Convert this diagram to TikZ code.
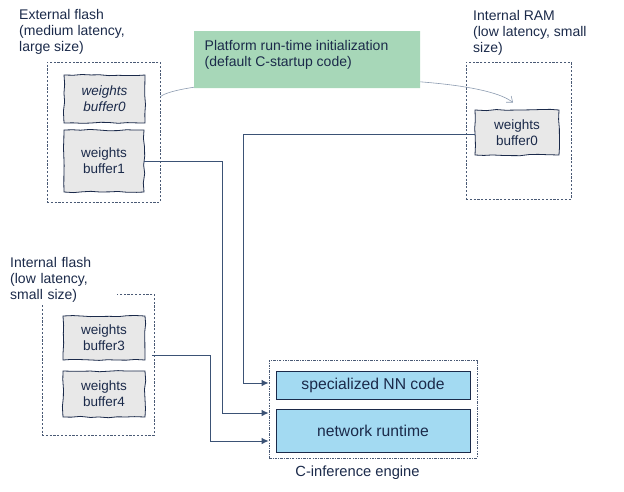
\documentclass[tikz,border=0pt]{standalone}
\usepackage{fontspec}
\setmainfont{Liberation Sans}
\usetikzlibrary{arrows.meta,calc,shapes.misc,decorations.pathmorphing}
\definecolor{navy}{HTML}{1B2A4A}
\definecolor{connc}{HTML}{3B5275}
\definecolor{dashc}{HTML}{4A5A75}
\definecolor{bufgray}{HTML}{E8E8E8}
\definecolor{greenc}{HTML}{A7D7B8}
\definecolor{bluec}{HTML}{A3DAF2}
\definecolor{curvec}{HTML}{8C9BB0}
\tikzset{
  txt/.style={font=\fontsize{14}{16}\selectfont, text=navy, align=left, inner sep=0pt},
  container/.style={draw=dashc, line width=0.7pt, dash pattern=on 2.2pt off 1.6pt, inner sep=0pt},
  buf/.style={draw=navy, fill=bufgray, line width=0.8pt, decorate,
    decoration={random steps, segment length=9pt, amplitude=0.7pt},
    font=\fontsize{13.5}{16}\selectfont, text=navy, align=center, inner sep=0pt},
  blk/.style={draw=navy, fill=bluec, line width=0.9pt, font=\fontsize{15.7}{18}\selectfont, text=navy, inner sep=0pt},
  conn/.style={draw=connc, line width=1pt, -{Latex[length=7pt,width=6.5pt]}, color=connc},
  curv/.style={draw=curvec, line width=0.6pt, -{Straight Barb[length=5pt,width=8pt]}},
}
\begin{document}
\begin{tikzpicture}[x=1pt,y=-1pt]
\useasboundingbox (0,0) rectangle (624,491);
\pgfmathsetseed{7}
% containers
\node[container, minimum width=113, minimum height=140] (extflash) at (103.5,132) {};
\node[container, minimum width=105, minimum height=137] (ram) at (518.5,130.5) {};
\node[container, minimum width=112, minimum height=141] (iflash) at (98,364.5) {};
\node[container, dash pattern=on 2.5pt off 1.2pt on 0.8pt off 1.2pt, minimum width=208, minimum height=98] (engine) at (373,409) {};
% labels
\node[txt, anchor=north west] (extlbl) at (19,9.5) {External flash\\(medium latency,\\large size)};
\node[txt, anchor=north west] (ramlbl) at (473,10) {Internal RAM\\(low latency, small\\size)};
\node[txt, anchor=north west, fill=white, inner sep=3pt, text width=104pt] (iflbl) at (7,254) {Internal flash\\(low latency,\\small size)};
\node[txt, align=center, font=\fontsize{14.7}{17}\selectfont] (englbl) at (357.5,473) {C-inference engine};
% buffers
\node[buf, minimum width=81, minimum height=48] (b0) at (104.5,99) {\itshape weights\\\itshape buffer0};
\node[buf, minimum width=80, minimum height=62] (b1) at (104,161) {weights\\buffer1};
\node[buf, minimum width=84, minimum height=45] (rbuf) at (517,132.5) {weights\\buffer0};
\node[buf, minimum width=82, minimum height=44] (b3) at (104,338) {weights\\buffer3};
\node[buf, minimum width=82, minimum height=46] (b4) at (104,394) {weights\\buffer4};
% curve (behind green box)
\draw[curv] ($(extflash.north east)+(0,35)$) .. controls (185,76) and (470,68) .. ($(rbuf.north)+(-4,-7)$);
% green box
\node[chamfered rectangle, chamfered rectangle corners=north east, chamfered rectangle xsep=10pt, chamfered rectangle ysep=10pt, fill=greenc, minimum width=226, minimum height=57, inner sep=0pt] (init) at (307,59.5) {};
\node[txt, anchor=north west] (inittxt) at (204.5,40.5) {Platform run-time initialization\\(default C-startup code)};
% engine blocks
\node[blk, minimum width=194, minimum height=28] (spec) at (373,385) {specialized NN code};
\node[blk, minimum width=194, minimum height=43] (rt) at (373,430.5) {network runtime};
% connectors
\draw[conn] ($(rbuf.west)+(0,1.5)$) -| ($(engine.west)+(-25,-26)$) -- ($(engine.west)+(0,-26)$);
\draw[conn] (b1.east) -| ($(engine.west)+(-46,4)$) -- ($(engine.west)+(0,4)$);
\draw[conn] ($(iflash.east)+(-2,-9.5)$) -| ($(engine.west)+(-58,32)$) -- ($(engine.west)+(0,32)$);
\end{tikzpicture}
\end{document}
